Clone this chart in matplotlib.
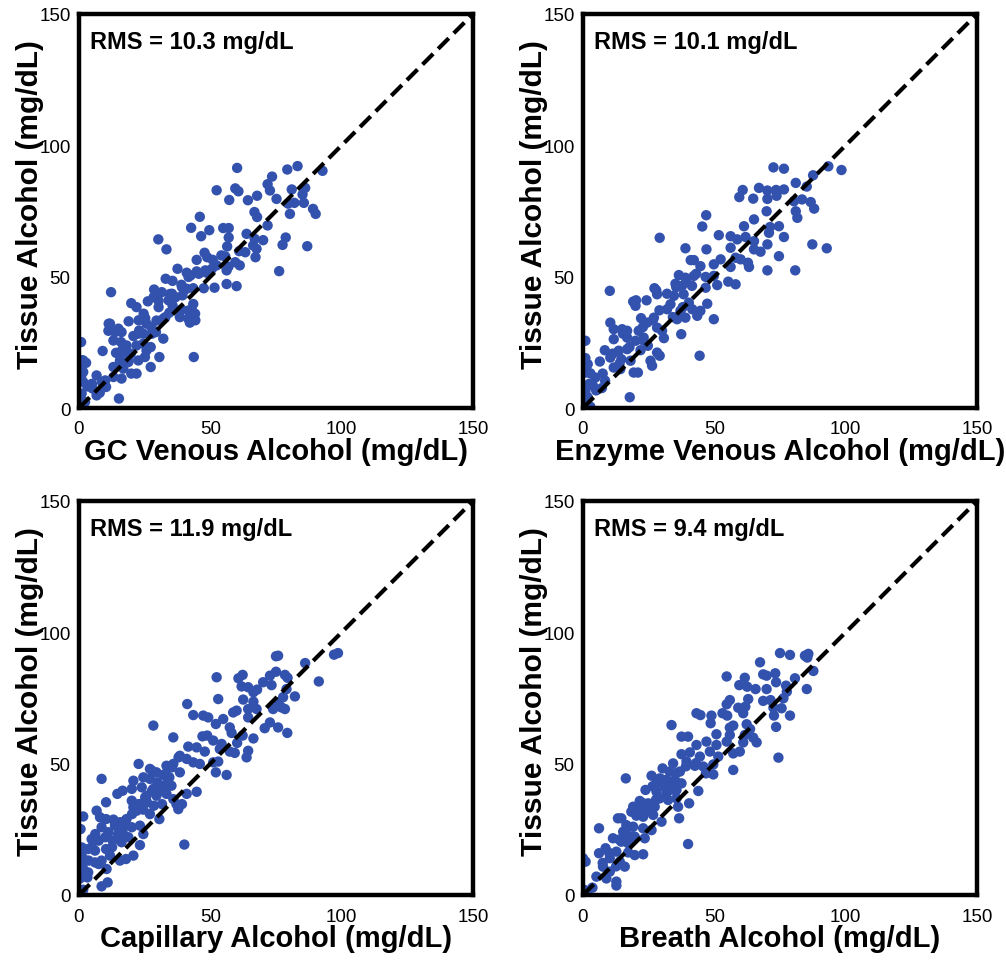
import matplotlib
matplotlib.use("Agg")
import matplotlib.pyplot as plt

plt.rcParams["font.family"] = ["Liberation Sans", "DejaVu Sans"]

# Reference (x) versus tissue alcohol (y), mg/dL, one pair of lists per panel
gc_venous = [60.2, 83.2, 79.3, 92.7, 73.5, 71.8, 52.4, 59.5, 60.7, 72.7, 81.0, 86.1, 85.1, 67.8, 57.2,
             64.3, 75.2, 82.0, 85.6, 79.6, 89.1, 90.1, 80.3, 66.8, 67.8, 46.0, 71.8, 54.9, 57.0, 42.7,
             49.6, 63.8, 46.5, 30.2, 57.0, 78.7, 70.1, 66.9, 66.3, 77.5, 86.9, 56.4, 33.3, 61.0, 63.3,
             67.6, 67.2, 47.8, 44.8, 48.8, 50.9, 54.2, 55.7, 59.5, 61.2, 56.9, 37.5, 41.0, 42.5, 44.8,
             48.6, 50.6, 52.4, 56.2, 76.2, 33.0, 35.6, 39.0, 41.0, 43.5, 47.5, 51.6, 56.2, 60.0, 12.2,
             28.6, 29.5, 31.5, 34.6, 36.8, 39.4, 26.2, 30.3, 19.9, 21.9, 35.6, 43.5, 39.0, 41.6, 44.2,
             38.4, 41.6, 42.2, 34.4, 32.1, 29.5, 25.2, 18.9, 11.8, 15.0, 11.2, 13.7, 16.2, 25.7, 27.6,
             22.9, 20.7, 24.5, 29.3, 32.1, 13.1, 16.0, 18.1, 21.9, 24.5, 27.3, 9.0, 14.1, 17.1, 19.7,
             25.7, 25.1, 30.6, 43.7, 15.6, 18.8, 22.6, 13.1, 16.9, 19.9, 21.9, 27.3, 13.1, 16.2, 6.7,
             8.7, 5.2, 7.9, 6.7, 15.2, 0.8, 1.6, 2.7, 1.0, 1.6, 0.8, 1.6, 1.0, 2.3, 1.0, 3.2, 10.3,
             28.4, 35.4, 39.2, 41.7, 45.6, 48.1, 34.1, 43.0, 44.3, 22.7, 27.8, 16.4, 18.9, 13.8, 11.3,
             15.1, 22.7, 24.6, 30.3, 32.9, 10.0, 4.9, 1.1, 1.1]
gc_tissue = [91.4, 92.1, 90.8, 90.3, 88.1, 85.2, 82.9, 83.6, 82.5, 82.8, 83.2, 83.8, 81.3, 80.8, 79.2,
             79.1, 79.6, 78.1, 78.1, 77.8, 75.8, 73.9, 73.9, 74.6, 72.7, 72.8, 69.5, 68.5, 68.5, 68.6,
             67.7, 66.3, 65.4, 64.2, 64.9, 64.9, 63.9, 64.4, 61.9, 62.1, 61.6, 61.5, 60.4, 59.7, 59.3,
             60.6, 57.4, 59.1, 56.4, 57.4, 56.4, 58.1, 57.7, 55.5, 54.3, 53.8, 53.0, 51.5, 50.5, 52.0,
             51.5, 53.0, 54.3, 52.4, 52.1, 49.2, 48.4, 46.9, 45.4, 45.6, 45.6, 45.8, 47.2, 46.4, 44.1,
             45.1, 43.1, 44.1, 43.4, 42.2, 42.9, 40.6, 40.8, 39.9, 38.4, 39.1, 39.6, 37.5, 37.1, 35.9,
             34.6, 34.0, 32.5, 36.3, 34.0, 33.3, 34.2, 33.0, 32.1, 30.2, 29.4, 28.9, 28.9, 32.1, 30.8,
             29.5, 27.4, 28.3, 28.9, 26.4, 25.7, 25.1, 23.8, 23.8, 24.5, 23.2, 21.7, 21.0, 21.3, 20.7,
             21.9, 19.4, 19.4, 19.4, 18.1, 17.5, 18.1, 15.6, 15.0, 13.1, 13.1, 15.6, 11.8, 11.2, 12.4,
             9.9, 7.4, 5.8, 4.8, 3.6, 25.1, 18.1, 17.2, 15.6, 13.7, 11.8, 9.9, 5.5, 2.3, 0.4, 8.2, 8.0,
             42.2, 43.5, 46.0, 49.9, 51.1, 52.4, 41.0, 37.2, 33.4, 28.3, 28.3, 22.0, 18.2, 15.6, 32.1,
             29.6, 33.4, 35.9, 38.4, 34.6, 10.5, 9.2, 15.6, 18.2]

enzyme_venous = [72.5, 76.5, 93.4, 98.4, 87.6, 81.0, 85.2, 60.8, 67.0, 70.2, 73.5, 76.5, 59.5, 64.8, 70.2,
                 73.7, 80.3, 83.4, 86.7, 88.0, 81.0, 81.6, 69.9, 46.9, 65.1, 45.4, 61.3, 71.2, 74.6, 29.2,
                 51.7, 56.2, 58.7, 61.9, 70.8, 76.5, 65.1, 70.2, 87.3, 92.8, 39.0, 47.0, 56.2, 65.1, 67.6,
                 74.6, 41.0, 42.2, 52.4, 58.1, 60.0, 62.8, 44.7, 49.8, 56.2, 63.2, 70.2, 80.8, 36.5, 39.0,
                 42.2, 46.7, 49.8, 55.3, 58.1, 35.2, 37.7, 41.5, 46.7, 51.1, 10.2, 27.2, 28.2, 32.0, 34.6,
                 38.3, 19.1, 24.2, 20.0, 33.3, 40.3, 47.3, 32.0, 37.1, 41.6, 44.7, 35.8, 39.0, 43.5, 49.8,
                 22.1, 24.4, 27.0, 10.4, 11.7, 14.9, 16.8, 21.2, 28.2, 30.1, 37.4, 11.7, 16.8, 20.0, 23.1,
                 30.8, 24.7, 8.3, 13.6, 16.8, 21.9, 28.2, 29.2, 44.4, 10.4, 14.6, 18.1, 25.7, 6.4, 11.7,
                 14.2, 19.3, 20.9, 26.3, 0.9, 1.8, 1.0, 2.8, 0.9, 4.7, 8.4, 3.8, 7.2, 0.9, 1.8, 17.8, 0.3,
                 2.8, 0.5,
                 20.2, 27.9, 35.5, 39.3, 43.1, 29.1, 34.2, 38.0, 22.8, 26.6, 15.2, 17.7, 11.3, 13.9, 7.5,
                 1.2, 2.4, 5.0, 22.8]
enzyme_tissue = [91.6, 91.1, 92.0, 90.6, 88.6, 85.7, 84.3, 83.0, 83.8, 82.8, 83.0, 83.2, 80.3, 79.7, 79.6,
                 80.8, 78.7, 79.4, 78.4, 75.9, 74.9, 72.4, 74.9, 73.4, 71.8, 69.1, 69.2, 68.9, 69.2, 64.8,
                 65.8, 65.4, 64.2, 65.1, 66.7, 65.1, 63.5, 62.3, 62.3, 60.8, 60.8, 60.4, 61.0, 60.4, 59.5,
                 57.8, 56.3, 56.3, 56.6, 57.2, 56.6, 55.3, 54.0, 54.7, 53.7, 53.7, 52.4, 52.4, 50.6, 49.6,
                 50.3, 49.9, 50.3, 48.1, 47.1, 47.3, 46.5, 46.5, 45.8, 46.8, 44.6, 45.6, 43.3, 43.5, 42.7,
                 43.3, 40.5, 41.0, 38.9, 39.5, 40.1, 39.7, 37.6, 37.0, 37.6, 37.0, 33.8, 34.4, 35.1, 33.8,
                 34.2, 32.5, 34.4, 32.5, 30.0, 30.0, 29.4, 29.4, 30.6, 29.4, 28.1, 26.2, 26.8, 25.6, 26.8,
                 26.6, 23.7, 22.0, 21.8, 22.4, 22.0, 21.1, 19.9, 19.9, 19.2, 18.6, 18.0, 18.0, 17.7, 15.4,
                 14.8, 13.5, 13.5, 16.1, 19.0, 16.7, 13.5, 13.2, 25.6, 11.6, 10.4, 8.5, 7.6, 6.3, 4.1, 4.1,
                 1.3, 0.5, 2.5,
                 41.0, 44.8, 46.0, 48.6, 51.1, 37.2, 34.6, 38.4, 30.8, 33.4, 28.3, 23.2, 20.7, 16.9, 13.1,
                 15.6, 9.2, 6.7, 25.8]

capillary = [97.1, 98.6, 75.8, 75.0, 86.1, 75.0, 78.4, 52.4, 62.3, 60.7, 72.7, 79.4, 91.3, 61.9, 64.4,
             67.8, 70.1, 73.3, 79.0, 66.4, 77.7, 82.2, 53.0, 62.5, 66.4, 75.9, 41.2, 64.4, 58.7, 60.0,
             67.6, 73.9, 77.1, 78.4, 43.5, 47.3, 49.2, 54.9, 64.4, 28.3, 52.1, 57.4, 58.1, 72.7, 70.7,
             75.8, 79.3, 62.3, 66.4, 47.0, 48.8, 35.9, 51.1, 54.3, 60.2, 41.6, 44.8, 47.9, 53.6, 57.4,
             59.3, 64.4, 63.8, 38.4, 41.0, 43.5, 46.0, 51.1, 53.0, 33.3, 35.9, 38.4, 52.1, 56.2, 27.0,
             29.5, 32.1, 34.4, 8.6, 20.7, 24.5, 27.0, 29.8, 33.3, 35.2, 20.1, 23.9, 28.3, 31.4, 14.6,
             16.6, 25.7, 29.5, 33.3, 41.0, 44.8, 35.9, 37.1, 37.8, 10.3, 20.1, 23.2, 25.9, 28.5, 20.7,
             22.0, 24.5, 27.0, 30.6, 6.7, 8.0, 1.6, 10.3, 13.1, 15.6, 18.1, 13.7, 16.9, 20.1, 23.2,
             0.6, 8.6, 4.8, 11.2, 14.9, 16.6, 18.8, 24.5, 7.5, 12.8, 16.2, 23.2, 40.1, 1.1, 3.5, 6.1,
             10.3, 15.6, 17.9, 20.7, 11.8, 1.0, 2.7, 6.1, 8.6, 10.5, 1.6, 3.5, 0.4, 3.2, 10.9, 8.6,
             0.6, 1.6,
             22.7, 27.8, 32.9, 35.4, 37.9, 22.7, 25.2, 27.8, 30.3, 17.6, 20.2, 15.1, 10.0, 4.9, 12.6,
             3.7, 7.5, 1.1, 2.4, 13.8, 6.2, 39.2, 31.6]
capillary_tissue = [91.5, 92.1, 91.1, 90.9, 88.3, 85.0, 83.8, 82.9, 83.8, 82.5, 83.5, 82.7, 81.3, 79.4, 79.1,
                    78.2, 81.0, 79.9, 78.4, 77.2, 75.3, 75.6, 74.6, 74.4, 73.6, 73.4, 72.7, 70.8, 69.5, 70.2,
                    70.8, 70.8, 71.4, 70.8, 68.5, 68.3, 67.6, 67.0, 67.6, 64.5, 65.1, 63.8, 61.7, 65.7, 63.5,
                    63.8, 61.7, 60.7, 59.6, 60.4, 60.7, 60.0, 58.8, 57.5, 57.9, 56.5, 56.2, 54.6, 55.6, 54.6,
                    54.1, 54.9, 52.4, 53.0, 51.8, 50.5, 49.9, 50.5, 50.8, 49.2, 49.9, 46.7, 46.7, 45.7, 48.0,
                    46.7, 45.7, 44.8, 44.2, 43.5, 44.8, 44.2, 42.9, 42.3, 41.6, 40.4, 41.0, 40.4, 39.7, 38.5,
                    39.7, 37.8, 37.8, 38.5, 38.5, 39.3, 36.5, 34.6, 32.7, 35.3, 35.9, 34.6, 35.3, 34.0, 33.4,
                    32.1, 32.5, 30.8, 28.9, 32.1, 29.6, 29.9, 28.9, 28.7, 27.7, 28.9, 26.4, 25.8, 25.8, 26.4,
                    25.1, 25.8, 21.3, 23.9, 23.2, 23.9, 22.0, 23.2, 20.7, 20.7, 20.1, 19.0, 19.2, 18.1, 17.5, 16.9,
                    17.5, 13.1, 13.7, 15.0, 15.0, 15.0, 13.1, 12.4, 13.1, 9.9, 9.9, 8.6, 6.3, 6.7, 4.8, 3.3,
                    0.4, 2.0,
                    49.9, 47.3, 46.1, 48.6, 52.4, 34.6, 37.2, 39.7, 41.0, 28.3, 30.8, 23.2, 22.0, 18.2, 18.2,
                    13.1, 11.8, 10.5, 8.0, 27.0, 23.2, 34.6, 34.6]

breath = [75.0, 78.8, 84.5, 85.8, 85.4, 67.4, 87.7, 54.7, 61.6, 68.6, 69.9, 73.2, 80.7, 59.5, 62.5,
          65.7, 69.9, 73.5, 77.3, 77.6, 85.2, 55.9, 62.9, 68.6, 71.4, 76.3, 54.7, 59.1, 61.8, 72.5,
          75.6, 43.2, 44.7, 48.9, 53.1, 54.9, 61.0, 72.7, 78.8, 33.7, 48.6, 55.9, 57.2, 62.3, 63.6,
          73.5, 37.5, 40.0, 50.8, 55.9, 61.6, 64.8, 66.1, 43.2, 47.0, 50.8, 54.7, 37.5, 40.7, 44.5,
          48.3, 51.5, 57.2, 59.7, 61.0, 74.4, 34.3, 39.4, 42.6, 45.8, 49.6, 57.2, 30.3, 33.0, 36.9,
          46.8, 49.6, 16.3, 26.1, 29.2, 31.8, 35.0, 28.0, 31.1, 33.7, 37.5, 23.8, 28.0, 31.8, 35.6,
          43.9, 29.2, 32.4, 35.6, 21.6, 24.8, 27.3, 19.1, 21.6, 24.2, 26.7, 36.2, 40.4, 18.4, 20.3,
          22.9, 29.9, 36.6, 13.3, 14.6, 16.5, 19.1, 22.9, 26.1, 6.1, 11.4, 15.3, 16.3, 19.7, 23.5,
          14.6, 17.2, 40.0, 8.6, 6.1, 12.7, 17.2, 19.7, 22.9, 0.0, 1.0, 10.2, 14.0, 15.9, 7.6, 10.2,
          5.1, 8.9, 12.7, 12.7, 0.6, 1.5, 3.6,
          26.5, 30.3, 32.9, 35.4, 39.2, 43.0, 22.7, 25.3, 20.2, 27.8, 16.4, 18.9, 13.8, 10.0, 7.5,
          12.6, 34.2]
breath_tissue = [92.1, 91.4, 91.1, 91.8, 90.4, 88.6, 85.3, 83.2, 82.7, 84.0, 83.5, 84.4, 82.5, 79.9, 79.3,
                 78.4, 78.4, 81.0, 79.7, 77.4, 78.4, 74.2, 74.6, 73.9, 74.2, 74.9, 72.6, 71.3, 71.7, 71.3,
                 71.1, 69.2, 68.5, 68.3, 69.2, 68.3, 69.2, 68.3, 68.3, 64.7, 65.4, 63.7, 64.5, 65.0, 63.2,
                 64.0, 60.3, 60.3, 61.2, 60.9, 60.9, 59.9, 58.1, 57.1, 58.4, 57.1, 58.4, 53.6, 54.3, 52.7,
                 54.6, 52.7, 53.9, 54.6, 58.1, 52.3, 50.1, 50.8, 49.2, 48.9, 49.7, 47.6, 48.2, 47.0, 47.0,
                 46.3, 45.9, 44.4, 45.4, 44.4, 43.8, 43.8, 42.5, 41.2, 41.9, 42.5, 40.0, 39.3, 38.7, 40.0,
                 39.6, 36.8, 36.2, 36.8, 35.8, 34.9, 33.6, 33.6, 33.0, 31.7, 30.5, 33.6, 34.9, 31.7, 30.2,
                 29.8, 27.9, 29.2, 29.2, 29.2, 26.6, 26.0, 25.4, 24.7, 25.4, 21.6, 24.1, 22.6, 22.2, 21.6,
                 20.3, 19.7, 19.4, 17.8, 15.9, 16.5, 16.2, 15.2, 15.5, 14.0, 12.7, 14.0, 12.7, 10.8, 10.8, 8.9,
                 7.0, 6.3, 5.1, 3.6, 1.9, 0.6, 2.8,
                 41.4, 43.9, 41.4, 46.4, 49.0, 50.2, 35.0, 32.5, 31.2, 36.3, 24.9, 22.3, 21.1, 16.0, 12.2,
                 10.9, 40.1]

x_labels = ["GC Venous Alcohol (mg/dL)", "Enzyme Venous Alcohol (mg/dL)",
            "Capillary Alcohol (mg/dL)", "Breath Alcohol (mg/dL)"]
rms_values = [10.3, 10.1, 11.9, 9.4]
y_label = "Tissue Alcohol (mg/dL)"
ticks = [0, 50, 100, 150]
identity = [0, 150]

panels = [(gc_venous, gc_tissue), (enzyme_venous, enzyme_tissue),
          (capillary, capillary_tissue), (breath, breath_tissue)]

W, H = 1006, 962
fig = plt.figure(figsize=(W / 100, H / 100), dpi=100)
fig.patch.set_facecolor("white")

# axes boxes in pixels: left, top, right, bottom
boxes = [(79, 15, 473, 409), (583, 15, 977, 409),
         (79, 502, 473, 896), (583, 502, 977, 896)]

dot_color = "#3352AE"

for (xs, ys), box, xl, rms in zip(panels, boxes, x_labels, rms_values):
    l, t, r, b = box
    ax = fig.add_axes([l / W, 1 - b / H, (r - l) / W, (b - t) / H])
    ax.scatter(xs, ys, s=56, color=dot_color, edgecolors="none", zorder=2)
    ax.plot(identity, identity, color="black", lw=3.0, dashes=(3.6, 1.7),
            zorder=3, solid_capstyle="butt", dash_capstyle="butt")
    ax.set_xlim(0, 150)
    ax.set_ylim(0, 150)
    ax.set_xticks(ticks)
    ax.set_yticks(ticks)
    ax.tick_params(axis="both", length=0, labelsize=13.5, colors="black")
    ax.tick_params(axis="x", pad=9)
    ax.tick_params(axis="y", pad=6)
    for sp in ax.spines.values():
        sp.set_linewidth(3.2)
        sp.set_color("black")
    ax.set_xlabel(xl, fontsize=21, fontweight="bold", va="center")
    ax.xaxis.set_label_coords(0.5, -0.109)
    ax.set_ylabel(y_label, fontsize=21.5, fontweight="bold", va="center")
    ax.yaxis.set_label_coords(-0.124, 0.52)
    ax.text(0.028, 0.931, f"RMS = {rms} mg/dL", transform=ax.transAxes,
            fontsize=17, fontweight="bold", ha="left", va="center")
    ax.set_zorder(1)

fig.savefig("out.png", dpi=100)
